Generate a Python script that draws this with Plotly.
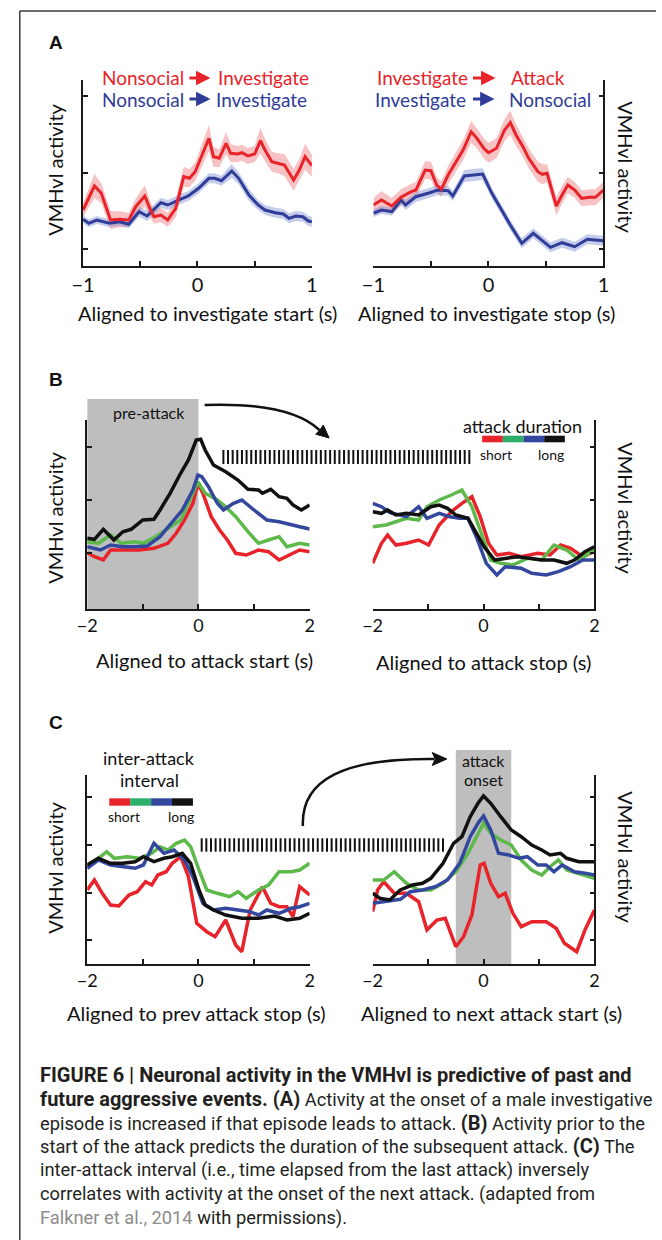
import plotly.graph_objects as go

W, H = 662, 1240
FONT = "Lato"
CAP_FONT = "Roboto"
RED = "#E8232A"
GREEN = "#5DB94A"
GREEN_KEY = "#2BAF6B"
BLUE = "#34479F"
BLACK = "#111111"
A_BLUE = "#2F3C98"

# ---------------- Panel A data (time in s, activity in a.u.) ----------------
a1_red_t = [-1.0, -0.90, -0.84, -0.76, -0.68, -0.60, -0.54, -0.46, -0.41, -0.38, -0.32, -0.26, -0.19, -0.12,
            -0.07, -0.02, 0.10, 0.14, 0.19, 0.25, 0.29, 0.35, 0.39, 0.44, 0.50, 0.55, 0.59, 0.65, 0.70, 0.76,
            0.84, 0.89, 0.94, 1.0]
a1_red_v = [55.7, 79.7, 72.4, 45.7, 46.4, 45.7, 59, 69.7, 55.7, 49, 50.7, 45.7, 57.4, 89,
            87.4, 94, 127.4, 109, 107.4, 122.4, 112.4, 111.7, 113, 109.7, 111.7, 125, 115.7, 104, 102.4, 100.7,
            85.7, 95.7, 109, 100]
a1_red_e = [7, 12, 10, 9, 8, 7, 8, 11, 8, 7, 7, 7, 9, 10, 9, 9, 13, 10, 9, 11, 9, 8, 8, 8, 8, 13, 11, 10,
            10, 11, 11, 11, 13, 11]
a1_blue_t = [-1.0, -0.95, -0.88, -0.77, -0.68, -0.60, -0.51, -0.44, -0.32, -0.26, -0.15, -0.08, 0.01, 0.10,
             0.15, 0.21, 0.30, 0.36, 0.45, 0.53, 0.59, 0.68, 0.75, 0.80, 0.86, 0.92, 0.97, 1.0]
a1_blue_v = [46.4, 42.4, 45.7, 42.4, 44, 41.4, 54, 49.7, 63, 60.7, 66.4, 69.7, 77.4, 87.4,
             87.4, 85, 94.7, 87.4, 70.7, 60.7, 55.7, 53, 51.7, 47.4, 49.7, 49, 44.7, 44]
a1_blue_e = [4, 4, 4, 4, 4, 4, 5, 5, 5, 5, 5, 5, 5, 5, 5, 5, 7, 6, 6, 5, 5, 5, 5, 5, 5, 5, 5, 5]

a2_red_t = [-1.0, -0.93, -0.84, -0.76, -0.67, -0.63, -0.55, -0.50, -0.45, -0.41, -0.35, -0.28, -0.22, -0.15,
            -0.10, -0.04, 0.00, 0.07, 0.14, 0.19, 0.24, 0.30, 0.35, 0.43, 0.47, 0.51, 0.59, 0.64, 0.69, 0.75,
            0.81, 0.88, 0.93, 1.0]
a2_red_v = [60.7, 65.7, 59.7, 68.4, 74, 75.7, 95.7, 95, 80.7, 76.4, 90.7, 104, 115.7, 134,
            127.4, 117.4, 113, 117.4, 135.7, 143, 130.7, 119, 107.4, 94, 91.4, 92.4, 59.7, 70.7, 80.7, 75.7,
            67.4, 68.4, 68.4, 75.7]
a2_red_e = [7, 9, 8, 8, 8, 8, 9, 9, 8, 8, 9, 9, 10, 11, 10, 10, 10, 10, 11, 12, 11, 10, 10, 10, 10, 9, 9,
            9, 8, 8, 8, 8, 8, 8]
a2_blue_t = [-1.0, -0.93, -0.84, -0.76, -0.72, -0.63, -0.51, -0.44, -0.35, -0.31, -0.21, -0.14, -0.05, 0.03,
             0.12, 0.19, 0.29, 0.39, 0.54, 0.64, 0.75, 0.86, 1.0]
a2_blue_v = [52.4, 55.7, 54, 65.7, 60.7, 69, 73, 75.7, 75, 69.7, 89.7, 90.7, 91.7, 72.4,
             54, 40.7, 22.4, 32.4, 18.4, 23, 19, 26.4, 25]
a2_blue_e = [4, 4, 4, 5, 5, 5, 5, 5, 5, 5, 6, 6, 6, 5, 5, 5, 5, 5, 5, 5, 5, 5, 5]

# ---------------- Panel B data ----------------
b1_black_t = [-2.00, -1.87, -1.71, -1.52, -1.36, -1.21, -1.00, -0.80, -0.69, -0.51, -0.32, -0.18, -0.04, 0.04,
              0.12, 0.27, 0.49, 0.71, 0.89, 1.08, 1.15, 1.30, 1.45, 1.59, 1.70, 1.85, 2.00]
b1_black_v = [70.7, 69.7, 79.7, 69, 77.3, 79.7, 89, 89.7, 99, 115.7, 135.7, 149, 169, 169.7,
              159, 144, 137.3, 129, 119.7, 119, 115.7, 119.7, 112.3, 110.7, 104, 99, 104]
b1_blue_t = [-2.00, -1.87, -1.76, -1.58, -1.36, -1.14, -0.92, -0.69, -0.47, -0.29, -0.10, -0.01, 0.06, 0.18,
             0.34, 0.45, 0.63, 0.78, 1.00, 1.23, 1.45, 1.67, 1.82, 2.00]
b1_blue_v = [62.3, 60.7, 59, 64, 62.3, 62.3, 63, 72.3, 87.3, 99, 119, 134, 132.3, 122.3,
             105.7, 99, 105.7, 109, 99, 89, 87.3, 84, 82.3, 80]
b1_green_t = [-2.00, -1.80, -1.58, -1.39, -1.14, -0.99, -0.77, -0.55, -0.32, -0.10, -0.01, 0.12, 0.34, 0.49,
              0.67, 0.89, 1.08, 1.26, 1.45, 1.59, 1.82, 2.00]
b1_green_v = [67.3, 65.7, 74, 65.7, 67.3, 65.7, 72.3, 80.7, 89, 115.7, 127.3, 115.7, 109, 102.3,
              92.3, 77.3, 65.7, 69, 72.3, 62.3, 65.7, 64]
b1_red_t = [-2.00, -1.87, -1.71, -1.58, -1.36, -1.06, -0.80, -0.55, -0.40, -0.25, -0.10, -0.01, 0.08, 0.23,
            0.38, 0.52, 0.67, 0.86, 1.08, 1.26, 1.45, 1.63, 1.82, 2.00]
b1_red_v = [56.3, 52.3, 49, 59, 59, 59, 60.7, 65.7, 75.7, 89, 105.7, 125.7, 115.7, 92.3,
            79, 69, 55.7, 54, 59, 57.3, 49, 54, 59, 57.3]

b2_black_t = [-2.00, -1.84, -1.73, -1.58, -1.39, -1.17, -0.95, -0.80, -0.65, -0.50, -0.28, -0.13, 0.01, 0.20,
              0.39, 0.61, 0.83, 1.05, 1.27, 1.50, 1.64, 1.83, 2.00]
b2_black_v = [97.3, 95.7, 99, 94, 95.7, 94, 102.3, 104, 100.7, 94, 90.7, 75.7, 62.3, 49,
              50.7, 52.3, 50.7, 49, 49, 45.7, 49, 57.3, 62.3]
b2_blue_t = [-2.00, -1.84, -1.69, -1.39, -1.17, -1.02, -0.80, -0.61, -0.43, -0.28, -0.13, 0.05, 0.24, 0.39,
             0.68, 0.87, 1.13, 1.35, 1.57, 1.79, 2.00]
b2_blue_v = [105.7, 102.3, 96.3, 92.3, 102.3, 90.7, 95.7, 92.3, 90.7, 90.7, 72.3, 45.7, 34, 42.3,
             40.7, 35.7, 34, 37.3, 42.3, 49, 49]
b2_green_t = [-2.00, -1.76, -1.39, -1.17, -1.02, -0.80, -0.58, -0.39, -0.21, -0.02, 0.13, 0.31, 0.53, 0.79,
              1.05, 1.27, 1.50, 1.72, 2.00]
b2_green_v = [82.3, 84, 90.7, 89, 102.3, 109, 114, 119, 102.3, 72.3, 49, 45.7, 44, 50.7,
              49, 64, 59, 49, 59]
b2_red_t = [-2.00, -1.84, -1.73, -1.58, -1.39, -1.17, -0.99, -0.80, -0.58, -0.39, -0.21, -0.06, 0.09, 0.24,
            0.46, 0.68, 0.98, 1.20, 1.39, 1.57, 1.79, 2.00]
b2_red_v = [45.7, 65.7, 74, 64, 65.7, 69, 64, 84, 97.3, 105.7, 112.3, 92.3, 65.7, 54,
            55.7, 52.3, 55.7, 54, 64, 60.7, 52.3, 57.3]

# ---------------- Panel C data ----------------
c1_green_t = [-2.00, -1.87, -1.65, -1.51, -1.28, -1.06, -0.84, -0.69, -0.55, -0.40, -0.25, -0.14, 0.01, 0.15,
              0.34, 0.56, 0.71, 0.86, 1.08, 1.26, 1.45, 1.67, 1.82, 2.00]
c1_green_v = [97.3, 102.3, 112.3, 105.7, 107.3, 105.7, 110.7, 117.3, 114, 120.7, 124, 117.3, 94, 74,
              70.7, 67.3, 72.3, 65.7, 74, 79, 92.3, 92.3, 94, 100.7]
c1_blue_t = [-2.00, -1.80, -1.58, -1.36, -1.14, -0.99, -0.80, -0.62, -0.44, -0.25, -0.10, 0.08, 0.27, 0.49,
             0.71, 0.93, 1.08, 1.23, 1.45, 1.67, 1.82, 2.00]
c1_blue_v = [95.7, 104, 99, 97.3, 95.7, 99, 120.7, 110.7, 114, 104, 87.3, 60.7, 54, 55.7,
             54, 52.3, 49, 54, 50.7, 55.7, 57.3, 60.7]
c1_black_t = [-2.00, -1.80, -1.58, -1.36, -1.14, -0.99, -0.80, -0.62, -0.47, -0.29, -0.14, 0.01, 0.12, 0.27,
              0.49, 0.78, 1.08, 1.37, 1.59, 1.82, 2.00]
c1_black_v = [99, 105.7, 100.7, 100.7, 102.3, 107.3, 102.3, 105.7, 107.3, 110.7, 100.7, 74, 59, 54,
              49, 45.7, 45.7, 48, 44, 45.7, 50.7]
c1_red_t = [-2.00, -1.87, -1.73, -1.58, -1.43, -1.25, -1.10, -0.95, -0.84, -0.73, -0.58, -0.47, -0.32, -0.18,
            -0.03, 0.15, 0.30, 0.49, 0.67, 0.78, 0.93, 1.15, 1.30, 1.45, 1.59, 1.70, 1.82, 2.00]
c1_red_v = [74, 84, 70.7, 59, 58, 69, 72.3, 82.3, 79, 89, 92.3, 100.7, 107.3, 87.3,
            40.7, 32.3, 27.3, 44, 19, 12.3, 54, 77.3, 60.7, 57.3, 57.3, 47.3, 77.3, 69]

c2_black_t = [-2.00, -1.87, -1.69, -1.50, -1.28, -1.10, -0.95, -0.73, -0.54, -0.39, -0.24, -0.10, 0.00, 0.13,
              0.31, 0.50, 0.68, 0.87, 1.05, 1.20, 1.39, 1.50, 1.72, 2.00]
c2_black_v = [70.7, 65.7, 64, 74, 79, 80.7, 85.7, 100.7, 120.7, 127.3, 147.3, 160.7, 168, 160.7,
              147.3, 134, 127.3, 119, 114, 109, 110.7, 105.7, 102.3, 102.3]
c2_blue_t = [-2.00, -1.76, -1.50, -1.32, -1.10, -0.87, -0.65, -0.43, -0.24, -0.10, 0.00, 0.13, 0.27, 0.46,
             0.64, 0.79, 0.98, 1.13, 1.27, 1.42, 1.64, 1.83, 2.00]
c2_blue_v = [60.7, 62.3, 64.7, 72.3, 74, 77.3, 84, 100.7, 127.3, 140.7, 148, 134, 110.7, 109,
             105.7, 107.3, 99, 99, 92.3, 99, 92.3, 90.7, 89]
c2_green_t = [-2.00, -1.80, -1.61, -1.39, -1.17, -0.95, -0.73, -0.50, -0.28, -0.10, 0.00, 0.13, 0.31, 0.50,
              0.68, 0.87, 1.05, 1.20, 1.35, 1.50, 1.72, 2.00]
c2_green_v = [84, 84, 92.3, 80.7, 74, 74, 80.7, 92.3, 110.7, 130.7, 140.7, 130.7, 124, 119,
              104, 94, 89, 97.3, 104, 94, 90.7, 85.7]
c2_red_t = [-2.00, -1.91, -1.80, -1.61, -1.39, -1.17, -1.02, -0.84, -0.69, -0.50, -0.36, -0.21, -0.06, 0.01,
            0.13, 0.27, 0.39, 0.53, 0.68, 0.87, 1.13, 1.31, 1.46, 1.68, 1.83, 2.00]
c2_red_v = [52.3, 74, 82.3, 70.7, 70.7, 62.3, 34, 44, 45.7, 17.3, 27.3, 49, 99, 100.7,
            80.7, 67.3, 70.7, 50.7, 37.3, 42.3, 42.3, 35.7, 20.7, 12.3, 34, 54]

# tick labels
a_xticks = [-1, -0.5, 0, 0.5, 1]
a_xticktext = ["\u22121", "", "0", "", "1"]
bc_xticks = [-2, -1, 0, 1, 2]
bc_xticktext = ["\u22122", "", "0", "", "2"]
key_colors = [RED, GREEN_KEY, BLUE, BLACK]


def px(x):
    return x / W


def py(y):
    return 1 - y / H


fig = go.Figure()


def add_band(t, v, e, fill, xa, ya):
    up = [a + b for a, b in zip(v, e)]
    lo = [a - b for a, b in zip(v, e)]
    fig.add_trace(go.Scatter(x=t, y=up, mode="lines", line=dict(width=0), xaxis=xa, yaxis=ya,
                             showlegend=False, hoverinfo="skip"))
    fig.add_trace(go.Scatter(x=t, y=lo, mode="lines", line=dict(width=0), fill="tonexty", fillcolor=fill,
                             xaxis=xa, yaxis=ya, showlegend=False, hoverinfo="skip"))


def add_line(t, v, color, xa, ya, w=3.5):
    fig.add_trace(go.Scatter(x=t, y=v, mode="lines", line=dict(color=color, width=w), xaxis=xa, yaxis=ya,
                             showlegend=False))


RED_BAND = "rgba(238,120,125,0.45)"
BLUE_BAND = "rgba(110,130,205,0.40)"
add_band(a1_red_t, a1_red_v, a1_red_e, RED_BAND, "x", "y")
add_band(a1_blue_t, a1_blue_v, a1_blue_e, BLUE_BAND, "x", "y")
add_line(a1_blue_t, a1_blue_v, A_BLUE, "x", "y", 3)
add_line(a1_red_t, a1_red_v, RED, "x", "y", 3)
add_band(a2_red_t, a2_red_v, a2_red_e, RED_BAND, "x2", "y2")
add_band(a2_blue_t, a2_blue_v, a2_blue_e, BLUE_BAND, "x2", "y2")
add_line(a2_blue_t, a2_blue_v, A_BLUE, "x2", "y2", 3)
add_line(a2_red_t, a2_red_v, RED, "x2", "y2", 3)

for t, v, c in [(b1_red_t, b1_red_v, RED), (b1_green_t, b1_green_v, GREEN), (b1_blue_t, b1_blue_v, BLUE),
                (b1_black_t, b1_black_v, BLACK)]:
    add_line(t, v, c, "x3", "y3")
for t, v, c in [(b2_red_t, b2_red_v, RED), (b2_green_t, b2_green_v, GREEN), (b2_blue_t, b2_blue_v, BLUE),
                (b2_black_t, b2_black_v, BLACK)]:
    add_line(t, v, c, "x4", "y4")
for t, v, c in [(c1_red_t, c1_red_v, RED), (c1_green_t, c1_green_v, GREEN), (c1_blue_t, c1_blue_v, BLUE),
                (c1_black_t, c1_black_v, BLACK)]:
    add_line(t, v, c, "x5", "y5")
for t, v, c in [(c2_red_t, c2_red_v, RED), (c2_green_t, c2_green_v, GREEN), (c2_blue_t, c2_blue_v, BLUE),
                (c2_black_t, c2_black_v, BLACK)]:
    add_line(t, v, c, "x6", "y6")

AXC = "#1a1a1a"


def xax(x0, x1, y_anchor, rng, tv, tt, fs):
    return dict(domain=[px(x0), px(x1)], range=rng, anchor=y_anchor, showline=True, linecolor=AXC,
                linewidth=1.6, ticks="inside", ticklen=5, tickwidth=1.5, tickcolor=AXC, tickvals=tv,
                ticktext=tt, tickfont=dict(family=FONT, size=fs, color="#111"), showgrid=False,
                zeroline=False, fixedrange=True)


def yax(y0, y1, x_anchor, rng, tv, side):
    return dict(domain=[py(y0), py(y1)], range=rng, anchor=x_anchor, side=side, showline=True,
                linecolor=AXC, linewidth=1.6, ticks="inside", ticklen=5, tickwidth=1.5, tickcolor=AXC,
                tickvals=tv, showticklabels=False, showgrid=False, zeroline=False, fixedrange=True)


A_Y = (265.7, 80)
B_Y = (609, 420)
C_Y = (964, 775)
LX = (77.3, 306)
RX = (370.7, 598.7)

layout = dict(
    width=W, height=H, margin=dict(l=0, r=0, t=0, b=0), paper_bgcolor="white", plot_bgcolor="rgba(0,0,0,0)",
    showlegend=False,
    xaxis=xax(73, 308.3, "y", [-1, 1], a_xticks, a_xticktext, 20),
    yaxis=yax(*A_Y, "x", [0, 185.7], [16.4, 93, 169.7], "left"),
    xaxis2=xax(371.5, 608, "y2", [-1, 1], a_xticks, a_xticktext, 20),
    yaxis2=yax(*A_Y, "x2", [0, 185.7], [16.4, 93, 169.7], "right"),
    xaxis3=xax(*LX, "y3", [-2, 2], bc_xticks, bc_xticktext, 18),
    yaxis3=yax(*B_Y, "x3", [0, 189], [55.7, 109, 162.3], "left"),
    xaxis4=xax(*RX, "y4", [-2, 2], bc_xticks, bc_xticktext, 18),
    yaxis4=yax(*B_Y, "x4", [0, 189], [55.7, 109, 162.3], "right"),
    xaxis5=xax(*LX, "y5", [-2, 2], bc_xticks, bc_xticktext, 18),
    yaxis5=yax(*C_Y, "x5", [0, 189], [24, 71.3, 119, 167.3], "left"),
    xaxis6=xax(*RX, "y6", [-2, 2], bc_xticks, bc_xticktext, 18),
    yaxis6=yax(*C_Y, "x6", [0, 189], [24, 71.3, 119, 167.3], "right"),
)
fig.update_layout(**layout)

shapes = []
# outer frame (top and left edges)
shapes.append(dict(type="line", xref="paper", yref="paper", x0=px(8), x1=px(662), y0=py(11), y1=py(11),
                   line=dict(color="#3a3a3a", width=1.5)))
shapes.append(dict(type="line", xref="paper", yref="paper", x0=px(8), x1=px(8), y0=py(11), y1=py(1240),
                   line=dict(color="#3a3a3a", width=1.5)))
# gray windows
shapes.append(dict(type="rect", xref="x3", yref="paper", x0=-2, x1=0, y0=py(609), y1=py(399),
                   fillcolor="#BEBEBE", line=dict(width=0), layer="below"))
shapes.append(dict(type="rect", xref="x6", yref="paper", x0=-0.5, x1=0.5, y0=py(964), y1=py(750),
                   fillcolor="#BEBEBE", line=dict(width=0), layer="below"))


def hatch(x0, x1, y0, y1, step=4.77):
    n = int(round((x1 - x0) / step)) + 1
    for i in range(n):
        xx = x0 + i * step
        shapes.append(dict(type="line", xref="paper", yref="paper", x0=px(xx), x1=px(xx), y0=py(y0), y1=py(y1),
                           line=dict(color="#111", width=2)))


hatch(217.3, 469.3, 450, 464)
hatch(195, 442, 838.3, 851.7)


def key_bar(x0, x1, y0, y1):
    w = (x1 - x0) / 4
    for i, c in enumerate(key_colors):
        shapes.append(dict(type="rect", xref="paper", yref="paper", x0=px(x0 + i * w), x1=px(x0 + (i + 1) * w),
                           y0=py(y1), y1=py(y0), fillcolor=c, line=dict(width=0)))


key_bar(483.3, 568.3, 435.7, 442.3)
key_bar(100, 186, 798.3, 805.7)


def P(x, y):
    return f"{px(x):.5f},{py(y):.5f}"


# curved arrows
shapes.append(dict(type="path", xref="paper", yref="paper",
                   path=f"M {P(198, 405)} Q {P(285, 402)} {P(316, 430)}",
                   line=dict(color="#111", width=2.5)))
shapes.append(dict(type="path", xref="paper", yref="paper",
                   path=f"M {P(326, 438)} L {P(312.2, 434.2)} L {P(316.5, 430)} L {P(320, 425)} Z",
                   fillcolor="#111", line=dict(color="#111", width=1)))
shapes.append(dict(type="path", xref="paper", yref="paper",
                   path=f"M {P(299, 826)} C {P(297, 780)} {P(340, 758)} {P(434, 759)}",
                   line=dict(color="#111", width=2.5)))
shapes.append(dict(type="path", xref="paper", yref="paper",
                   path=f"M {P(447, 759)} L {P(432, 752.5)} L {P(435, 759)} L {P(432, 765.5)} Z",
                   fillcolor="#111", line=dict(color="#111", width=1)))
fig.update_layout(shapes=shapes)

ann = []


def text(x, y, s, size, color="#111", xanchor="center", angle=0, family=FONT):
    ann.append(dict(x=px(x), y=py(y), xref="paper", yref="paper", text=s, showarrow=False, xanchor=xanchor,
                    yanchor="middle", textangle=angle, font=dict(family=family, size=size, color=color)))


def tarrow(x0, x1, y, color):
    ann.append(dict(x=px(x1), y=py(y), xref="paper", yref="paper", text="", showarrow=True, ax=-(x1 - x0),
                    ay=0, arrowhead=2, arrowsize=0.9, arrowwidth=3.2, arrowcolor=color))


# panel letters
for lab, yy in [("A", 42), ("B", 380), ("C", 723)]:
    text(36, yy, f"<b>{lab}</b>", 19, "#111", "left", family="Liberation Sans")

# panel A legend
text(90, 78, "Nonsocial", 19, RED, "left")
tarrow(181.5, 204, 78, RED)
text(210, 78, "Investigate", 19, RED, "left")
text(90, 99, "Nonsocial", 19, A_BLUE, "left")
tarrow(181.5, 204, 99, A_BLUE)
text(208, 99, "Investigate", 19, A_BLUE, "left")
text(373.6, 78, "Investigate", 19, RED, "left")
tarrow(473, 497, 78, RED)
text(511, 78, "Attack", 19, RED, "left")
text(371.5, 99, "Investigate", 19, A_BLUE, "left")
tarrow(473, 496, 99, A_BLUE)
text(508.7, 99, "Nonsocial", 19, A_BLUE, "left")

# y-axis labels
for yy in [170, 518, 868]:
    text(44, yy, "VMHvl activity", 20, "#111", angle=-90)
for yy in [167, 508, 857]:
    text(631, yy, "VMHvl activity", 20, "#111", angle=90)

# x-axis titles
text(201, 313, "Aligned to investigate start (s)", 20)
text(487.6, 313, "Aligned to investigate stop (s)", 20)
text(198, 660, "Aligned to attack start (s)", 20)
text(484.4, 661.7, "Aligned to attack stop (s)", 20)
text(189.6, 1012.7, "Aligned to prev attack stop (s)", 20)
text(492.8, 1013, "Aligned to next attack start (s)", 20)

# panel B / C annotations
text(141, 412.3, "pre-attack", 16)
text(525, 425.7, "attack duration", 18)
text(497.5, 454, "short", 14)
text(554, 454, "long", 14)
text(140.8, 758.3, "inter-attack", 18)
text(141.7, 780, "interval", 18)
text(115, 816, "short", 14)
text(174, 816, "long", 14)
text(484.7, 760, "attack", 16)
text(484.7, 779.3, "onset", 16)

# caption
CAPC = "#231F20"


def B(s):
    return f"<span style='font-size:20px'><b>{s}</b></span>"


cap_lines = [
    B("FIGURE 6 | Neuronal activity in the VMHvl is predictive of past and"),
    B("future aggressive events. (A)") + " Activity at the onset of a male investigative",
    "episode is increased if that episode leads to attack. " + B("(B)") + " Activity prior to the",
    "start of the attack predicts the duration of the subsequent attack. " + B("(C)") + " The",
    "inter-attack interval (i.e., time elapsed from the last attack) inversely",
    "correlates with activity at the onset of the next attack. (adapted from",
    "<span style='color:#8c8c8c'>Falkner et al., 2014</span> with permissions).",
]
for i, s in enumerate(cap_lines):
    text(27, 1075 + i * 23.8, s, 18.3, CAPC, "left", family=CAP_FONT)

fig.update_layout(annotations=ann)
fig.write_html("out.html", config={"displayModeBar": False},
               post_script="document.body.style.margin='0';document.body.style.overflow='hidden';")
